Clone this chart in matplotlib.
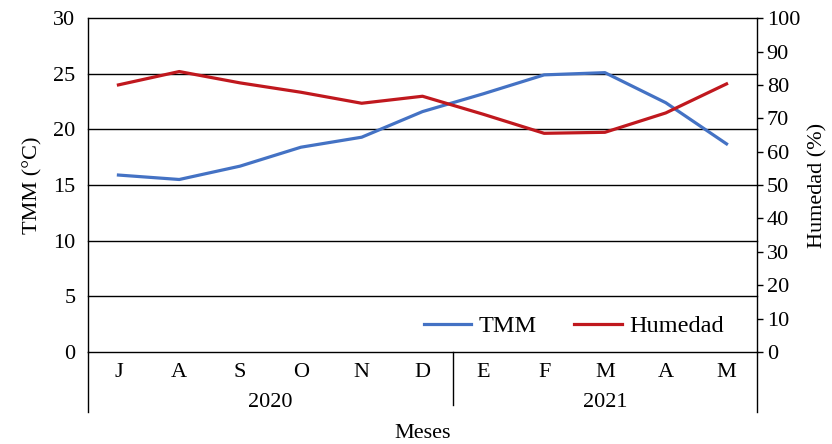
import matplotlib.pyplot as plt
import matplotlib.transforms as mtransforms

plt.rcParams['font.family'] = 'Liberation Serif'
plt.rcParams['font.size'] = 16

meses = ['J', 'A', 'S', 'O', 'N', 'D', 'E', 'F', 'M', 'A', 'M']
anios = ['2020', '2021']
meses_por_anio = [6, 5]

tmm = [15.9, 15.5, 16.7, 18.4, 19.3, 21.6, 23.2, 24.9, 25.1, 22.4, 18.7]
humedad = [80.0, 84.0, 80.6, 77.8, 74.5, 76.6, 71.2, 65.5, 65.8, 71.6, 80.3]

azul = '#4472C4'
rojo = '#C0181E'

fig = plt.figure(figsize=(8.32, 4.44), dpi=100)
ax = fig.add_axes([0.1058, 0.2072, 0.804, 0.752])
ax2 = ax.twinx()

x = list(range(len(meses)))
l1, = ax.plot(x, tmm, color=azul, lw=2.3, label='TMM', zorder=3)
l2, = ax2.plot(x, humedad, color=rojo, lw=2.3, label='Humedad', zorder=3)

ax.set_xlim(-0.5, len(meses) - 0.5)
ax.set_ylim(0, 30)
ax.set_yticks(range(0, 31, 5))
ax2.set_ylim(0, 100)
ax2.set_yticks(range(0, 101, 10))

# horizontal grid lines
for v in range(0, 31, 5):
    ax.axhline(v, color='black', lw=1.0, zorder=1, clip_on=False)

for s in ['top', 'bottom']:
    ax.spines[s].set_visible(False)
    ax2.spines[s].set_visible(False)
ax2.spines['left'].set_visible(False)
ax.spines['right'].set_visible(False)
ax.spines['left'].set_linewidth(1.0)
ax2.spines['right'].set_linewidth(1.0)

ax.tick_params(axis='y', length=0, pad=9)
ax2.tick_params(axis='y', direction='out', length=4, width=1.0, pad=3)

ax.set_xticks(x)
ax.set_xticklabels(meses)
ax.tick_params(axis='x', length=0, pad=8)

# year groups under the month labels
trans = mtransforms.blended_transform_factory(ax.transData, ax.transAxes)
inicio = -0.5
for anio, n in zip(anios, meses_por_anio):
    centro = inicio + n / 2
    ax.text(centro, -0.152, anio, transform=trans, ha='center', va='center')
    inicio += n
ax.plot([5.5, 5.5], [0, -0.16], transform=trans, color='black', lw=1.0, clip_on=False)
ax.plot([-0.5, -0.5], [0, -0.18], transform=trans, color='black', lw=1.0, clip_on=False)
ax.plot([10.5, 10.5], [0, -0.18], transform=trans, color='black', lw=1.0, clip_on=False)

ax.set_xlabel('Meses', labelpad=30)
ax.set_ylabel('TMM (°C)', labelpad=8)
ax2.set_ylabel('Humedad (%)', labelpad=6)

ax2.legend([l1, l2], ['TMM', 'Humedad'], ncol=2, frameon=False, fontsize=17.5,
           loc='lower right', bbox_to_anchor=(0.983, -0.022), handlelength=1.95,
           columnspacing=1.55, handletextpad=0.3)

fig.savefig('out.png', dpi=100)
